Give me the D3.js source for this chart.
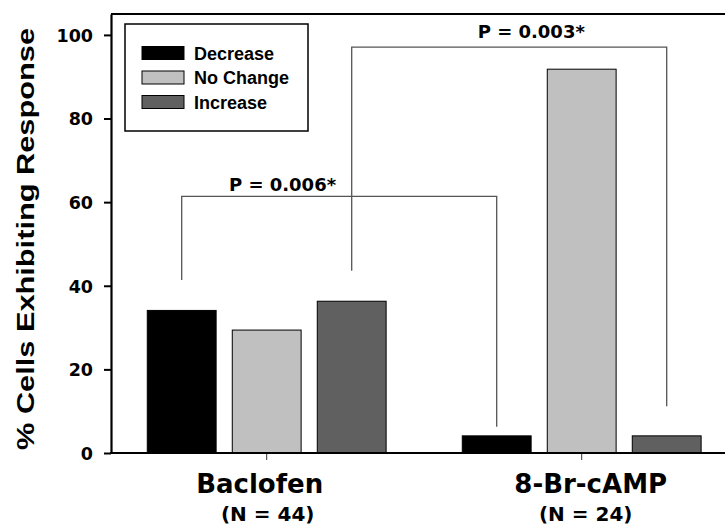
<!DOCTYPE html>
<html>
<head>
<meta charset="utf-8">
<script src="https://cdn.jsdelivr.net/npm/d3@7"></script>
<style>
  body { margin: 0; background: #fff; }
  svg { display: block; }
</style>
</head>
<body>
<div id="content"></div>
<script>
// data
const groups = ['Baclofen', '8-Br-cAMP'];
const groupN = ['(N = 44)', '(N = 24)'];
const series = ['Decrease', 'No Change', 'Increase'];
const baclofen = [34.1, 29.4, 36.3];
const brCamp = [4.1, 91.8, 4.1];
const yTicks = [0, 20, 40, 60, 80, 100];

// significance brackets (values in % units)
const bracketFrom = [['Baclofen', 'Decrease'], ['Baclofen', 'Increase']];
const bracketTo = [['8-Br-cAMP', 'Decrease'], ['8-Br-cAMP', 'Increase']];
const bracketTop = [61.4, 97.1];
const bracketLeftEnd = [41.4, 43.6];
const bracketRightEnd = [6.3, 11.2];
const bracketLabels = ['P = 0.006*', 'P = 0.003*'];

const colors = {'Decrease': '#000000', 'No Change': '#c0c0c0', 'Increase': '#606060'};

let values = {'Baclofen': baclofen, '8-Br-cAMP': brCamp};
let rows = [];
groups.forEach((g) => {
  series.forEach((s, i) => rows.push({group: g, series: s, value: values[g][i]}));
});

let W = 725, H = 527;
let plotLeft = 111, plotTop = 14, plotBottom = 453;

let svg = d3.select('#content')
            .append('svg')
            .attr('width', W)
            .attr('height', H);

let y = d3.scaleLinear()
          .domain([0, 105])
          .range([plotBottom, plotTop]);

let x0 = d3.scaleBand()
           .domain(groups)
           .range([109.2, 739.2]);

let x1 = d3.scaleBand()
           .domain(series)
           .range([-127.5, 127.5])
           .paddingInner(0.19)
           .paddingOuter(0.095);

let center = (g) => x0(g) + x0.bandwidth() / 2;
let barMid = (g, s) => center(g) + x1(s) + x1.bandwidth() / 2;

// bars
svg.append('g')
   .selectAll('rect')
   .data(rows)
   .enter()
   .append('rect')
   .attr('x', (d) => center(d.group) + x1(d.series))
   .attr('y', (d) => y(d.value))
   .attr('width', x1.bandwidth())
   .attr('height', (d) => y(0) - y(d.value))
   .attr('fill', (d) => colors[d.series])
   .attr('stroke', '#000')
   .attr('stroke-width', 1);

// frame: top line
svg.append('line')
   .attr('x1', plotLeft).attr('x2', W)
   .attr('y1', y(105)).attr('y2', y(105))
   .attr('stroke', '#000').attr('stroke-width', 2.2);

// y axis
let yAxis = svg.append('g')
   .attr('transform', 'translate(' + plotLeft + ',0)')
   .call(d3.axisLeft(y).tickValues(yTicks).tickSize(7).tickPadding(11).tickSizeOuter(0));
yAxis.select('.domain').attr('stroke-width', 2.2);
yAxis.selectAll('.tick line').attr('stroke-width', 2);
yAxis.selectAll('.tick text')
     .attr('font-family', 'DejaVu Sans')
     .attr('font-weight', 'bold')
     .attr('font-size', 17.5)
     .attr('fill', '#000')
     .attr('dy', '0.36em');

// x axis
let xAxis = svg.append('g')
   .attr('transform', 'translate(0,' + plotBottom + ')');
xAxis.append('line')
     .attr('x1', plotLeft - 1).attr('x2', W)
     .attr('stroke', '#000').attr('stroke-width', 2.2);
xAxis.selectAll('.gtick')
     .data(groups)
     .enter()
     .append('line')
     .attr('x1', (d) => center(d)).attr('x2', (d) => center(d))
     .attr('y1', 1).attr('y2', 7)
     .attr('stroke', '#333').attr('stroke-width', 1);

// label nudges (px) so the text sits as in the original
let groupDx = [-7, 9];
let nDx = [1, 4];

xAxis.selectAll('.glabel')
     .data(groups)
     .enter()
     .append('text')
     .attr('x', (d, i) => center(d) + groupDx[i])
     .attr('y', 40)
     .attr('text-anchor', 'middle')
     .attr('font-family', 'DejaVu Sans')
     .attr('font-weight', 'bold')
     .attr('font-size', 26)
     .text((d) => d);

xAxis.selectAll('.nlabel')
     .data(groups)
     .enter()
     .append('text')
     .attr('x', (d, i) => center(d) + nDx[i])
     .attr('y', 68)
     .attr('text-anchor', 'middle')
     .attr('font-family', 'DejaVu Sans')
     .attr('font-weight', 'bold')
     .attr('font-size', 20)
     .text((d, i) => groupN[i]);

// y title
svg.append('text')
   .attr('transform', 'translate(34,239) rotate(-90)')
   .attr('text-anchor', 'middle')
   .attr('font-family', 'Liberation Sans')
   .attr('font-weight', 'bold')
   .attr('font-size', 24)
   .attr('textLength', 422)
   .attr('lengthAdjust', 'spacingAndGlyphs')
   .text('% Cells Exhibiting Response');

// brackets
let labelFrac = [0.32, 0.57];
let labelGap = [5, 9];
bracketLabels.forEach((label, i) => {
  let xa = barMid(bracketFrom[i][0], bracketFrom[i][1]);
  let xb = barMid(bracketTo[i][0], bracketTo[i][1]);
  let path = d3.path();
  path.moveTo(xa, y(bracketLeftEnd[i]));
  path.lineTo(xa, y(bracketTop[i]));
  path.lineTo(xb, y(bracketTop[i]));
  path.lineTo(xb, y(bracketRightEnd[i]));
  svg.append('path')
     .attr('d', path.toString())
     .attr('fill', 'none')
     .attr('stroke', '#555')
     .attr('stroke-width', 1.3);
  svg.append('text')
     .attr('x', xa + (xb - xa) * labelFrac[i])
     .attr('y', y(bracketTop[i]) - labelGap[i])
     .attr('text-anchor', 'middle')
     .attr('font-family', 'DejaVu Sans')
     .attr('font-weight', 'bold')
     .attr('font-size', 18)
     .text(label);
});

// legend
let legend = svg.append('g').attr('transform', 'translate(125,24)');
legend.append('rect')
      .attr('width', 183).attr('height', 107)
      .attr('fill', '#fff')
      .attr('stroke', '#000').attr('stroke-width', 1.5);
let item = legend.selectAll('.item')
      .data(series)
      .enter()
      .append('g')
      .attr('transform', (d, i) => 'translate(17,' + (22.5 + i * 24.5) + ')');
item.append('rect')
    .attr('width', 42).attr('height', 13)
    .attr('fill', (d) => colors[d])
    .attr('stroke', '#000').attr('stroke-width', 1);
item.append('text')
    .attr('x', 52).attr('y', 13)
    .attr('font-family', 'Liberation Sans')
    .attr('font-weight', 'bold')
    .attr('font-size', 18)
    .text((d) => d);
</script>
</body>
</html>
